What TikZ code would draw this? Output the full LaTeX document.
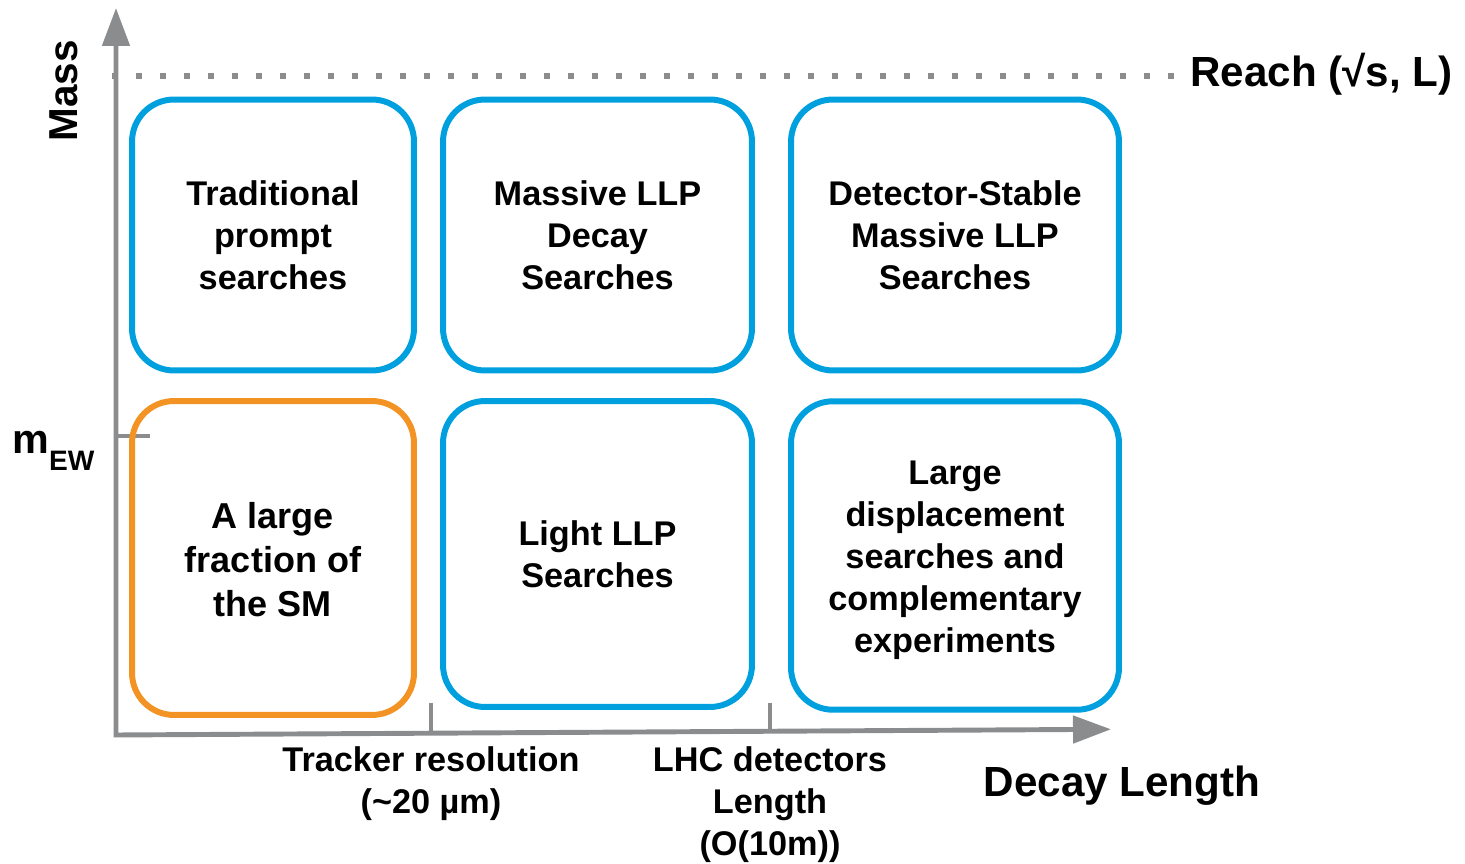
\documentclass[tikz,border=0pt]{standalone}
\usepackage{fontspec}
\setmainfont{Liberation Sans}
\usetikzlibrary{arrows.meta}

\definecolor{llpblue}{RGB}{0,160,223}
\definecolor{smorange}{RGB}{243,147,35}
\definecolor{axisgray}{RGB}{138,140,142}
\definecolor{dotgray}{RGB}{140,140,140}

\tikzstyle{region}=[draw=llpblue, line width=3.4pt, rounded corners=0.84cm, align=center, font=\bfseries\fontsize{19.5}{23.9}\selectfont]
\tikzstyle{axis}=[axisgray, line width=2.8pt, line join=miter, {Triangle[length=0.76cm, width=0.54cm]}-{Triangle[length=0.76cm, width=0.54cm]}]
\tikzstyle{tick}=[axisgray, line width=2pt]
\tikzstyle{reachline}=[dotgray, line width=0.12cm, dash pattern=on 0.12cm off 0.36cm]
\tikzstyle{axislabel}=[align=center, font=\bfseries\fontsize{19.5}{23.9}\selectfont]
\tikzstyle{biglabel}=[inner sep=0pt, font=\bfseries\fontsize{24}{28}\selectfont]

\begin{document}
\begin{tikzpicture}[x=0.02cm, y=-0.02cm]
      \useasboundingbox (0,0) rectangle (1465,864);

      % axes
      \coordinate (ytip) at (116,8);
      \coordinate (origin) at (116,735);
      \coordinate (xtip) at (1111,729.3);
      \draw[axis] (ytip) -- (origin) -- (xtip);

      \coordinate (ew) at (116,436);
      \coordinate (trk) at (431,703);
      \coordinate (lhc) at (770,703);
      \draw[tick] (ew) -- ++(34,0);
      \draw[tick] (trk) -- ++(0,30);
      \draw[tick] (lhc) -- ++(0,29);

      \coordinate (reachstart) at (112.3,76);
      \coordinate (reachend) at (1174,76);
      \draw[reachline] (reachstart) -- (reachend);

      % search regions
      \node[region, minimum width=5.64cm, minimum height=5.42cm] (prompt) at (273,235) {Traditional\\prompt\\searches};
      \node[region, minimum width=6.18cm, minimum height=5.42cm] (massive) at (597.5,235) {Massive LLP\\Decay\\Searches};
      \node[region, minimum width=6.56cm, minimum height=5.42cm] (stable) at (955,235) {Detector-Stable\\Massive LLP\\Searches};
      \node[region, draw=smorange, minimum width=5.64cm, minimum height=6.28cm, font=\bfseries\fontsize{20.5}{25}\selectfont] (sm) at (273,558) {\rule{0pt}{17pt}A large\\fraction of\\the SM};
      \node[region, minimum width=6.18cm, minimum height=6.12cm] (light) at (597.5,554) {Light LLP\\Searches};
      \node[region, minimum width=6.56cm, minimum height=6.17cm] (large) at (955,555.5) {\rule{0pt}{19pt}Large\\displacement\\searches and\\complementary\\experiments};

      % labels
      \node[axislabel] (trklabel) at (431,784) {Tracker resolution\\(\textasciitilde 20 µm)};
      \node[axislabel] (lhclabel) at (770,805) {LHC detectors\\Length\\(O(10m))};
      \node[biglabel, anchor=base] (decay) at (1122,797) {Decay Length};
      \node[biglabel, anchor=base west] (reach) at (1190,87) {Reach (√s, L)};
      \node[biglabel, anchor=base, rotate=90, font=\bfseries\fontsize{23}{28}\selectfont] (mass) at (77,91) {Mass};
      \node[biglabel, anchor=base west, font=\bfseries\fontsize{23.5}{28}\selectfont] (mew) at (12,454) {m\raisebox{-9.5pt}{\fontsize{16}{16}\selectfont EW}};
\end{tikzpicture}
\end{document}
